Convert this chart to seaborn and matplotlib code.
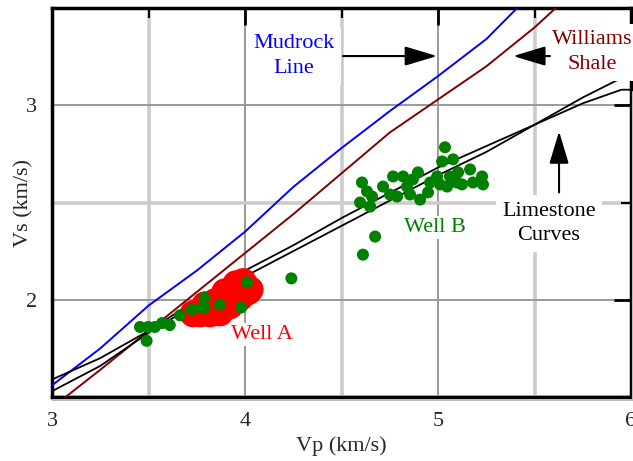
import matplotlib
matplotlib.use("Agg")
import matplotlib.pyplot as plt
import seaborn as sns
from matplotlib.ticker import MultipleLocator
from matplotlib.lines import Line2D

# trend lines (Vp, Vs in km/s)
mud_vp = [3.0, 3.25, 3.5, 3.75, 4.0, 4.25, 4.5, 4.75, 5.0, 5.25, 5.41]
mud_vs = [1.56, 1.75, 1.97, 2.15, 2.35, 2.58, 2.78, 2.97, 3.15, 3.34, 3.5]

wil_vp = [3.07, 3.25, 3.5, 3.75, 4.0, 4.25, 4.5, 4.75, 5.0, 5.25, 5.5, 5.61]
wil_vs = [1.5, 1.64, 1.84, 2.04, 2.24, 2.44, 2.65, 2.86, 3.03, 3.2, 3.4, 3.5]

lime1_vp = [3.0, 3.25, 3.5, 3.75, 4.0, 4.25, 4.5, 4.75, 5.0, 5.25, 5.5, 5.75, 5.95]
lime1_vs = [1.59, 1.70, 1.84, 2.0, 2.15, 2.28, 2.42, 2.55, 2.68, 2.79, 2.90, 3.04, 3.14]
lime2_vp = [3.0, 3.25, 3.5, 3.75, 4.0, 4.25, 4.5, 4.75, 5.0, 5.25, 5.5, 5.75, 5.95, 6.0]
lime2_vs = [1.53, 1.66, 1.83, 1.98, 2.12, 2.25, 2.38, 2.51, 2.64, 2.76, 2.90, 3.01, 3.08, 3.08]

# well A (red blob)
wa_red_vp = [3.731, 3.767, 3.819, 3.870, 3.793, 3.845, 3.896, 3.933, 3.974,
             4.0, 4.016, 4.026, 3.974, 3.922, 3.860, 3.953, 3.990, 3.896]
wa_red_vs = [1.928, 1.928, 1.928, 1.933, 1.974, 1.990, 2.0, 2.041, 2.062,
             2.077, 2.041, 2.052, 2.010, 1.969, 1.959, 2.082, 2.093, 2.041]

# green points near well A
wa_grn_vp = [3.456, 3.497, 3.533, 3.49, 3.57, 3.61, 3.663, 3.725, 3.777,
             3.79, 3.79, 3.87, 3.98, 4.01, 4.24]
wa_grn_vs = [1.86, 1.86, 1.86, 1.789, 1.88, 1.87, 1.92, 1.95, 1.96,
             2.01, 1.96, 1.975, 1.96, 2.09, 2.11]

# well B
wb_vp = [4.606, 4.632, 4.596, 4.648, 4.658, 4.674, 4.611, 4.715, 4.767, 4.788,
         4.819, 4.839, 4.855, 4.907, 4.896, 4.948, 4.959, 4.995, 5.021, 5.036,
         5.078, 5.062, 5.047, 5.104, 5.124, 5.166, 5.181, 5.228, 5.233, 5.098,
         5.010, 4.870, 4.751]
wb_vs = [2.603, 2.557, 2.5, 2.479, 2.531, 2.325, 2.232, 2.582, 2.634, 2.531,
         2.634, 2.582, 2.541, 2.515, 2.655, 2.552, 2.603, 2.634, 2.711, 2.784,
         2.722, 2.634, 2.582, 2.655, 2.593, 2.670, 2.603, 2.634, 2.593, 2.603,
         2.593, 2.619, 2.541]

sns.set_style("white")
plt.rcParams['font.family'] = ['Liberation Serif', 'DejaVu Serif']

fig = plt.figure(figsize=(6.33, 4.61), dpi=100)
ax = fig.add_axes([0.0822, 0.1388, 0.9147, 0.8438])

# lines
sns.lineplot(x=mud_vp, y=mud_vs, sort=False, estimator=None, color='#0000ff', lw=1.4, ax=ax, zorder=3)
sns.lineplot(x=wil_vp, y=wil_vs, sort=False, estimator=None, color='#800000', lw=1.4, ax=ax, zorder=3)
sns.lineplot(x=lime1_vp, y=lime1_vs, sort=False, estimator=None, color='black', lw=1.3, ax=ax, zorder=3)
sns.lineplot(x=lime2_vp, y=lime2_vs, sort=False, estimator=None, color='black', lw=1.3, ax=ax, zorder=3)

# points
sns.scatterplot(x=wa_red_vp, y=wa_red_vs, color='#ff0000', s=380, edgecolor='none', ax=ax, zorder=4)
sns.scatterplot(x=wa_grn_vp, y=wa_grn_vs, color='#008000', s=75, edgecolor='none', ax=ax, zorder=5)
sns.scatterplot(x=wb_vp, y=wb_vs, color='#008000', s=75, edgecolor='none', ax=ax, zorder=5)

ax.set_xlim(3, 6)
ax.set_ylim(1.5, 3.5)
ax.xaxis.set_major_locator(MultipleLocator(1))
ax.xaxis.set_minor_locator(MultipleLocator(0.5))
ax.yaxis.set_major_locator(MultipleLocator(1))
ax.yaxis.set_minor_locator(MultipleLocator(0.5))
ax.grid(which='major', color='#999999', lw=1.4, zorder=1)
ax.grid(which='minor', color='#cccccc', lw=2.6, zorder=1)
ax.set_axisbelow(True)
ax.tick_params(which='major', direction='in', length=12, width=2, color='black',
               top=True, right=True, labelsize=16, pad=11)
ax.tick_params(which='minor', direction='in', length=7, width=1.5, color='black',
               top=True, right=True)
for s in ax.spines.values():
    s.set_color('black')
    s.set_linewidth(2.5)

# faint shadow under the bottom and right frame
fig.add_artist(Line2D([0.083, 1.0], [0.1330, 0.1330], color='#bbbbbb', lw=1.5))
fig.add_artist(Line2D([0.9995, 0.9995], [0.133, 0.80], color='#bbbbbb', lw=1.5))

ax.set_xlabel('Vp (km/s)', fontsize=16)
ax.set_ylabel('Vs (km/s)', fontsize=16)
ax.xaxis.set_label_coords(0.5, -0.100)
ax.yaxis.set_label_coords(-0.032, 0.5)

box = dict(boxstyle='square,pad=0.3', fc='white', ec='none')
ax.text(4.254, 3.253, 'Mudrock\nLine', color='#0000ff', fontsize=16, ha='center', va='center',
        linespacing=1.4, bbox=box, zorder=6)
ax.text(5.80, 3.273, 'Williams\nShale', color='#800000', fontsize=16, ha='center', va='center',
        linespacing=1.4, bbox=box, zorder=6, clip_on=False)
ax.text(5.575, 2.392, 'Limestone\nCurves', color='black', fontsize=16, ha='center', va='center',
        linespacing=1.4, bbox=box, zorder=6)
ax.text(4.088, 1.82, 'Well A', color='#ff0000', fontsize=16, ha='center', va='center',
        bbox=dict(boxstyle='square,pad=0.1', fc='white', ec='none'), zorder=6)
ax.text(4.984, 2.371, 'Well B', color='#008000', fontsize=16, ha='center', va='center',
        bbox=dict(boxstyle='square,pad=0.1', fc='white', ec='none'), zorder=6)

arrow = dict(arrowstyle='-|>,head_length=1.0,head_width=0.3', mutation_scale=20,
             color='black', lw=1.5, shrinkA=0, shrinkB=0)
ax.annotate('', xy=(4.995, 3.253), xytext=(4.508, 3.253), arrowprops=arrow, zorder=7)
ax.annotate('', xy=(5.389, 3.253), xytext=(5.58, 3.253), arrowprops=arrow, zorder=7)
ax.annotate('', xy=(5.627, 2.866), xytext=(5.627, 2.552), arrowprops=arrow, zorder=7)

fig.savefig('out.png', dpi=100)
